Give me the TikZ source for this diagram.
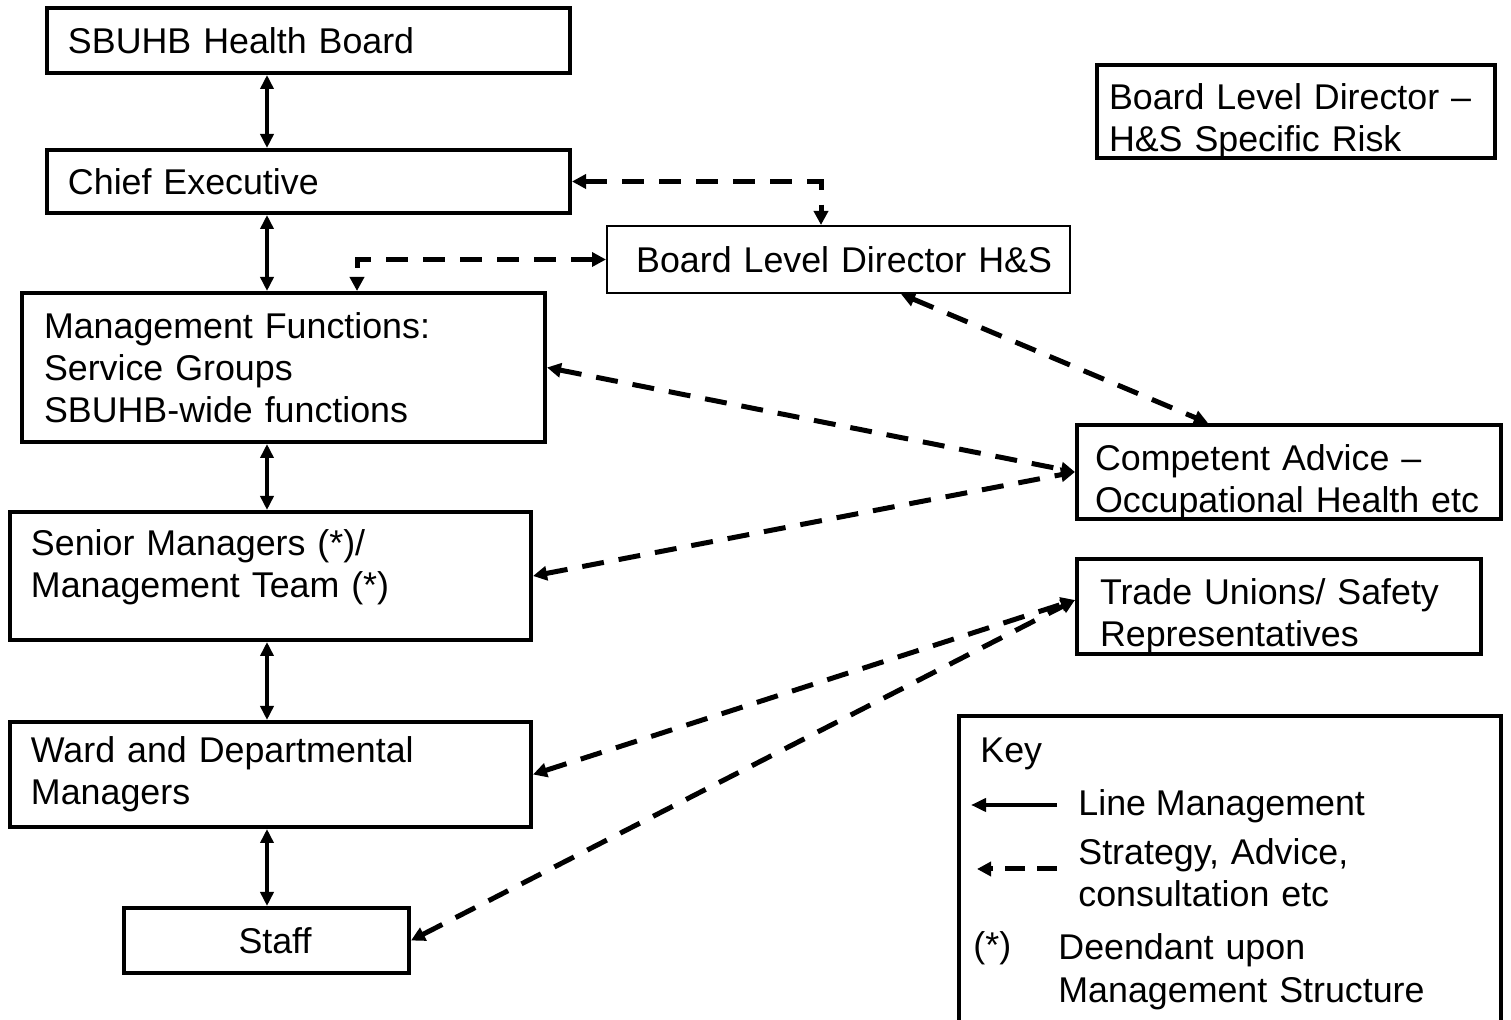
\documentclass[tikz,border=0pt]{standalone}
\usepackage{fontspec}
\setmainfont{Liberation Sans}
\usetikzlibrary{arrows.meta}

\begin{document}
\begin{tikzpicture}
[x=0.5pt, y=-0.5pt,
 every node/.style={font=\fontsize{17.9}{21}\selectfont},
 boxDecorate/.style={shape=rectangle, draw, line width=2pt, inner xsep=10.5pt, inner ysep=0pt, align=left},
 lineDecorate/.style={{Triangle[length=7pt,width=6.5pt]}-{Triangle[length=7pt,width=6.5pt]}, line width=1.8pt},
 dashDecorate/.style={{Triangle[length=7pt,width=7pt]}-{Triangle[length=7pt,width=7pt]}, line width=2.5pt, dash pattern=on 11pt off 7.5pt},
 keyDecorate/.style={inner sep=0pt, align=left}]

 \useasboundingbox (0,0) rectangle (1511,1020);

 % line management chain
 \node (hb) at (308.5,40.5) [boxDecorate, text width=240.5pt, minimum height=32.5pt] {SBUHB Health Board};
 \node (ce) at (308.5,181.5) [boxDecorate, text width=240.5pt, minimum height=31.5pt] {Chief Executive};
 \node (mf) at (283.5,367.5) [boxDecorate, inner xsep=11pt, text width=239.5pt, minimum height=74.5pt] {Management Functions:\\ Service Groups\\ SBUHB-wide functions};
 \node (sm) at (270.5,576) [boxDecorate, text width=239.5pt, minimum height=64pt, text depth=33pt] {Senior Managers (*)/\\ Management Team (*)};
 \node (wdm) at (270.5,774.5) [boxDecorate, text width=239.5pt, minimum height=52.5pt] {Ward and Departmental\\ Managers};
 \node (staff) at (266.5,940.5) [boxDecorate, align=center, minimum width=142.5pt, minimum height=32.5pt] {\hspace*{8.5pt}Staff};

 % advice side
 \node (bld) at (838.5,259.5) [boxDecorate, line width=1pt, inner xsep=9pt, text width=213.5pt, align=right, minimum height=33.5pt] {Board Level Director H\&S};
 \node (bldr) at (1296,111.5) [boxDecorate, inner xsep=6pt, text width=187pt, minimum height=46.5pt, text depth=14.5pt] {Board Level Director~–\\ H\&S Specific Risk};
 \node (ca) at (1289,472) [boxDecorate, inner xsep=9pt, text width=194pt, minimum height=47pt, text depth=14.5pt] {Competent Advice~–\\ Occupational Health etc};
 \node (tu) at (1279,606.5) [boxDecorate, inner xsep=11.5pt, text width=179pt, minimum height=47.5pt, text depth=14.5pt] {Trade Unions/ Safety\\ Representatives};

 % key
 \node (key) at (1230,878) [boxDecorate, minimum width=271pt, minimum height=162pt] {};
 \node (keyTitle) at (980,763) [keyDecorate, anchor=base west] {Key};
 \node (lineText) at (1078,816) [keyDecorate, anchor=base west] {Line Management};
 \node (dashText) at (1078,865) [keyDecorate, anchor=base west, text width=200pt] {Strategy, Advice,\\ consultation etc};
 \node (starText) at (973,958) [keyDecorate, anchor=base west] {(*)};
 \node (starNote) at (1058,960) [keyDecorate, anchor=base west, text width=200pt] {Deendant upon\\ Management Structure};
 \coordinate (lineEnd) at (1057,805);
 \coordinate (lineTip) at (971,805);
 \coordinate (dashEnd) at (1057,869);
 \coordinate (dashTip) at (977,869);
 \coordinate (spine) at (267,0);

\path
 (hb.south -| spine) edge[lineDecorate] (ce.north -| spine)
 (ce.south -| spine) edge[lineDecorate] (mf.north -| spine)
 (mf.south -| spine) edge[lineDecorate] (sm.north -| spine)
 (sm.south -| spine) edge[lineDecorate] (wdm.north -| spine)
 (wdm.south -| spine) edge[lineDecorate] (staff.north -| spine)

 ([xshift=31.25pt]bld.south) edge[dashDecorate] ([xshift=-40.5pt]ca.north)
 (mf.east) edge[dashDecorate] (ca.west)
 (sm.east) edge[dashDecorate] (ca.west)
 (wdm.east) edge[dashDecorate] ([yshift=3.25pt]tu.west)
 (staff.east) edge[dashDecorate] ([yshift=3.25pt]tu.west)

 (lineEnd) edge[-{Triangle[length=7.5pt,width=6.5pt]}, line width=2pt] (lineTip)
 (dashEnd) edge[-{Triangle[length=7pt,width=7pt]}, line width=2.5pt, dash pattern=on 10pt off 6pt] (dashTip);

 \draw[dashDecorate] (ce.east) -| ([xshift=-8.75pt]bld.north);
 \draw[dashDecorate] (bld.west) -| ([xshift=36.75pt]mf.north);
\end{tikzpicture}
\end{document}
